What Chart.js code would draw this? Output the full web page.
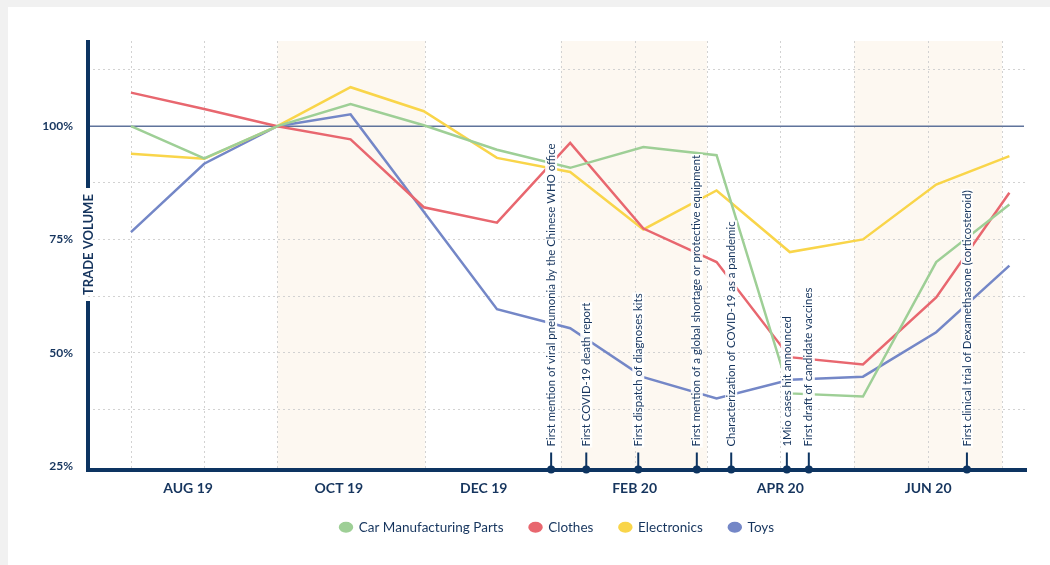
<!DOCTYPE html>
<html>
<head>
<meta charset="utf-8">
<script src="https://cdn.jsdelivr.net/npm/chart.js@4.4.1/dist/chart.umd.min.js"></script>
<style>
  html, body { margin: 0; padding: 0; background: #f1f1f1; }
  #wrap { position: relative; width: 1050px; height: 565px; }
</style>
</head>
<body>
<div id="wrap"><canvas id="trade-chart" width="1050" height="565"></canvas></div>
<script>
// x = months since Jul 2019 (0 = Jul 19 ... 12 = Jul 20)
const monthIndex = [0, 1, 2, 3, 4, 5, 6, 7, 8, 9, 10, 11, 12]

// trade volume, % of Sep 2019
const carParts = [100, 92.9, 100, 104.9, 100.2, 94.8, 90.8, 95.4, 93.6, 41.0, 40.3, 70.0, 82.7]
const clothes = [107.4, 103.8, 100, 97.1, 82.1, 78.7, 96.3, 77.4, 70.0, 49.0, 47.4, 62.2, 85.3]
const electronics = [93.9, 92.8, 100, 108.6, 103.3, 93.0, 89.9, 77.2, 85.8, 72.2, 75.0, 87.1, 93.4]
const toys = [76.6, 91.7, 100, 102.6, 81.1, 59.6, 55.4, 44.6, 39.9, 44.0, 44.7, 54.5, 69.2]

// axis ticks
const monthLabels = ['AUG 19', 'OCT 19', 'DEC 19', 'FEB 20', 'APR 20', 'JUN 20']
const monthLabelAt = [0.78, 2.84, 4.82, 6.88, 8.87, 10.89]
const gridAt = [0, 1, 2, 4.02, 5.87, 6.88, 7.87, 8.87, 9.88, 10.89, 11.9]
const bands = [[2, 4.02], [5.87, 7.87], [9.88, 11.9]]
const yTicks = [25, 37.5, 50, 62.5, 75, 87.5, 100, 112.5]
const yLabelled = [25, 50, 75, 100]

// timeline events
const eventNames = [
  'First mention of viral pneumonia by the Chinese WHO office',
  'First COVID-19 death report',
  'First dispatch of diagnoses kits',
  'First mention of a global shortage or protective equipment',
  'Characterization of COVID-19 as a pandemic',
  '1Mio cases hit announced',
  'First draft of candidate vaccines',
  'First clinical trial of Dexamethasone (corticosteroid)'
]
const eventAt = [5.74, 6.22, 6.93, 7.73, 8.2, 8.96, 9.26, 11.42]

const navy = '#16355e'
const axisNavy = '#0d3461'
const font = 'Lato'

const toPoints = vals => vals.map((v, i) => ({ x: monthIndex[i], y: v }))

// 배경, 음영 구간, 세로 점선, 100% 기준선, 축, 이벤트 표시
const decor = {
  id: 'decor',
  afterLayout(chart) {
    // 범례를 차트 영역 중앙에 맞춤
    const lg = chart.legend
    if (lg) {
      const shift = (chart.chartArea.left + chart.chartArea.right) / 2 - (lg.left + lg.right) / 2
      lg.left += shift
      lg.right += shift
    }
  },
  beforeDraw(chart) {
    const { ctx, chartArea: a, scales: { x } } = chart
    ctx.save()
    ctx.fillStyle = '#ffffff'
    ctx.fillRect(8, 7, chart.width - 8, chart.height - 7)
    ctx.fillStyle = '#fdf8f1'
    bands.forEach(([from, to]) => {
      const x1 = x.getPixelForValue(from)
      const x2 = x.getPixelForValue(to)
      ctx.fillRect(x1, a.top, x2 - x1, a.bottom - a.top)
    })
    ctx.strokeStyle = '#d2d2d2'
    ctx.lineWidth = 1
    ctx.setLineDash([2, 3])
    gridAt.forEach(v => {
      const px = Math.round(x.getPixelForValue(v)) + 0.5
      ctx.beginPath()
      ctx.moveTo(px, a.top)
      ctx.lineTo(px, a.bottom)
      ctx.stroke()
    })
    ctx.restore()
  },
  beforeDatasetsDraw(chart) {
    const { ctx, chartArea: a, scales: { y } } = chart
    const py = y.getPixelForValue(100)
    ctx.save()
    ctx.strokeStyle = '#5f739b'
    ctx.lineWidth = 1.5
    ctx.beginPath()
    ctx.moveTo(a.left, py)
    ctx.lineTo(a.right - 2, py)
    ctx.stroke()
    ctx.restore()
  },
  afterDraw(chart) {
    const { ctx, chartArea: a, scales: { x } } = chart
    ctx.save()

    // y axis line with a gap for its title
    const title = 'TRADE VOLUME'
    ctx.font = `bold 13px ${font}`
    const tw = ctx.measureText(title).width
    const midY = a.top + (a.bottom - a.top) * 0.475
    ctx.strokeStyle = axisNavy
    ctx.lineWidth = 4
    ctx.beginPath()
    ctx.moveTo(a.left, a.top - 1)
    ctx.lineTo(a.left, midY - tw / 2 - 6)
    ctx.moveTo(a.left, midY + tw / 2 + 6)
    ctx.lineTo(a.left, a.bottom + 2)
    ctx.stroke()
    ctx.save()
    ctx.translate(a.left, midY)
    ctx.rotate(-Math.PI / 2)
    ctx.fillStyle = navy
    ctx.textAlign = 'center'
    ctx.textBaseline = 'middle'
    ctx.fillText(title, 0, 1)
    ctx.restore()

    // events
    eventNames.forEach((name, i) => {
      const px = x.getPixelForValue(eventAt[i])
      ctx.strokeStyle = axisNavy
      ctx.fillStyle = axisNavy
      ctx.lineWidth = 2
      ctx.beginPath()
      ctx.moveTo(px, a.bottom)
      ctx.lineTo(px, a.bottom - 17)
      ctx.stroke()
      ctx.beginPath()
      ctx.arc(px, a.bottom, 4, 0, Math.PI * 2)
      ctx.fill()

      ctx.save()
      ctx.translate(px, a.bottom - 23)
      ctx.rotate(-Math.PI / 2)
      ctx.font = `11.4px ${font}`
      const w = ctx.measureText(name).width
      // 라벨 뒤 흰 바탕 — 선이 글자 뒤에서 끊겨 보이도록
      ctx.fillStyle = 'rgba(255,255,255,0.92)'
      ctx.fillRect(-1, -6, w + 2, 12)
      ctx.textAlign = 'left'
      ctx.textBaseline = 'middle'
      ctx.fillStyle = navy
      ctx.fillText(name, 0, 0)
      ctx.restore()
    })
    ctx.restore()
  }
}

const lineSet = (label, vals, color) => ({
  label,
  data: toPoints(vals),
  borderColor: color,
  backgroundColor: color,
  borderWidth: 2.5,
  pointRadius: 0,
  pointHoverRadius: 0,
  tension: 0
})

new Chart(document.getElementById('trade-chart'), {
  type: 'line',
  data: {
    datasets: [
      lineSet('Car Manufacturing Parts', carParts, '#9ecf96'),
      lineSet('Clothes', clothes, '#e8676f'),
      lineSet('Electronics', electronics, '#f9d54a'),
      lineSet('Toys', toys, '#7487c7')
    ]
  },
  options: {
    responsive: false,
    animation: false,
    layout: { padding: { top: 41, right: 24, bottom: 21, left: 8 } },
    plugins: {
      tooltip: { enabled: false },
      legend: {
        position: 'bottom',
        labels: {
          usePointStyle: true,
          pointStyle: 'circle',
          boxHeight: 6,
          pointStyleWidth: 12,
          padding: 26,
          color: navy,
          font: { family: font, size: 13.5 }
        }
      }
    },
    scales: {
      x: {
        type: 'linear',
        min: -0.587,
        max: 12.227,
        afterBuildTicks: scale => { scale.ticks = monthLabelAt.map(v => ({ value: v })) },
        afterFit: scale => { scale.height = 25 },
        grid: { display: false, drawTicks: false },
        border: { display: true, color: axisNavy, width: 4 },
        ticks: {
          autoSkip: false,
          maxRotation: 0,
          padding: 11,
          color: navy,
          font: { family: font, size: 14, weight: 'bold' },
          callback: (v, i) => monthLabels[i]
        }
      },
      y: {
        min: 24.2,
        max: 118.8,
        afterBuildTicks: scale => { scale.ticks = yTicks.map(v => ({ value: v })) },
        afterFit: scale => { scale.width = 80 },
        grid: {
          drawTicks: false,
          lineWidth: 1,
          color: ctx => (ctx.tick && (ctx.tick.value === 100 || ctx.tick.value === 25)) ? 'rgba(0,0,0,0)' : '#d2d2d2'
        },
        border: { display: false, dash: [2, 3] },
        ticks: {
          autoSkip: false,
          padding: 15,
          color: navy,
          font: { family: font, size: 12, weight: 'bold' },
          callback: v => yLabelled.includes(v) ? v + '%' : ''
        }
      }
    }
  },
  plugins: [decor]
})
</script>
</body>
</html>
